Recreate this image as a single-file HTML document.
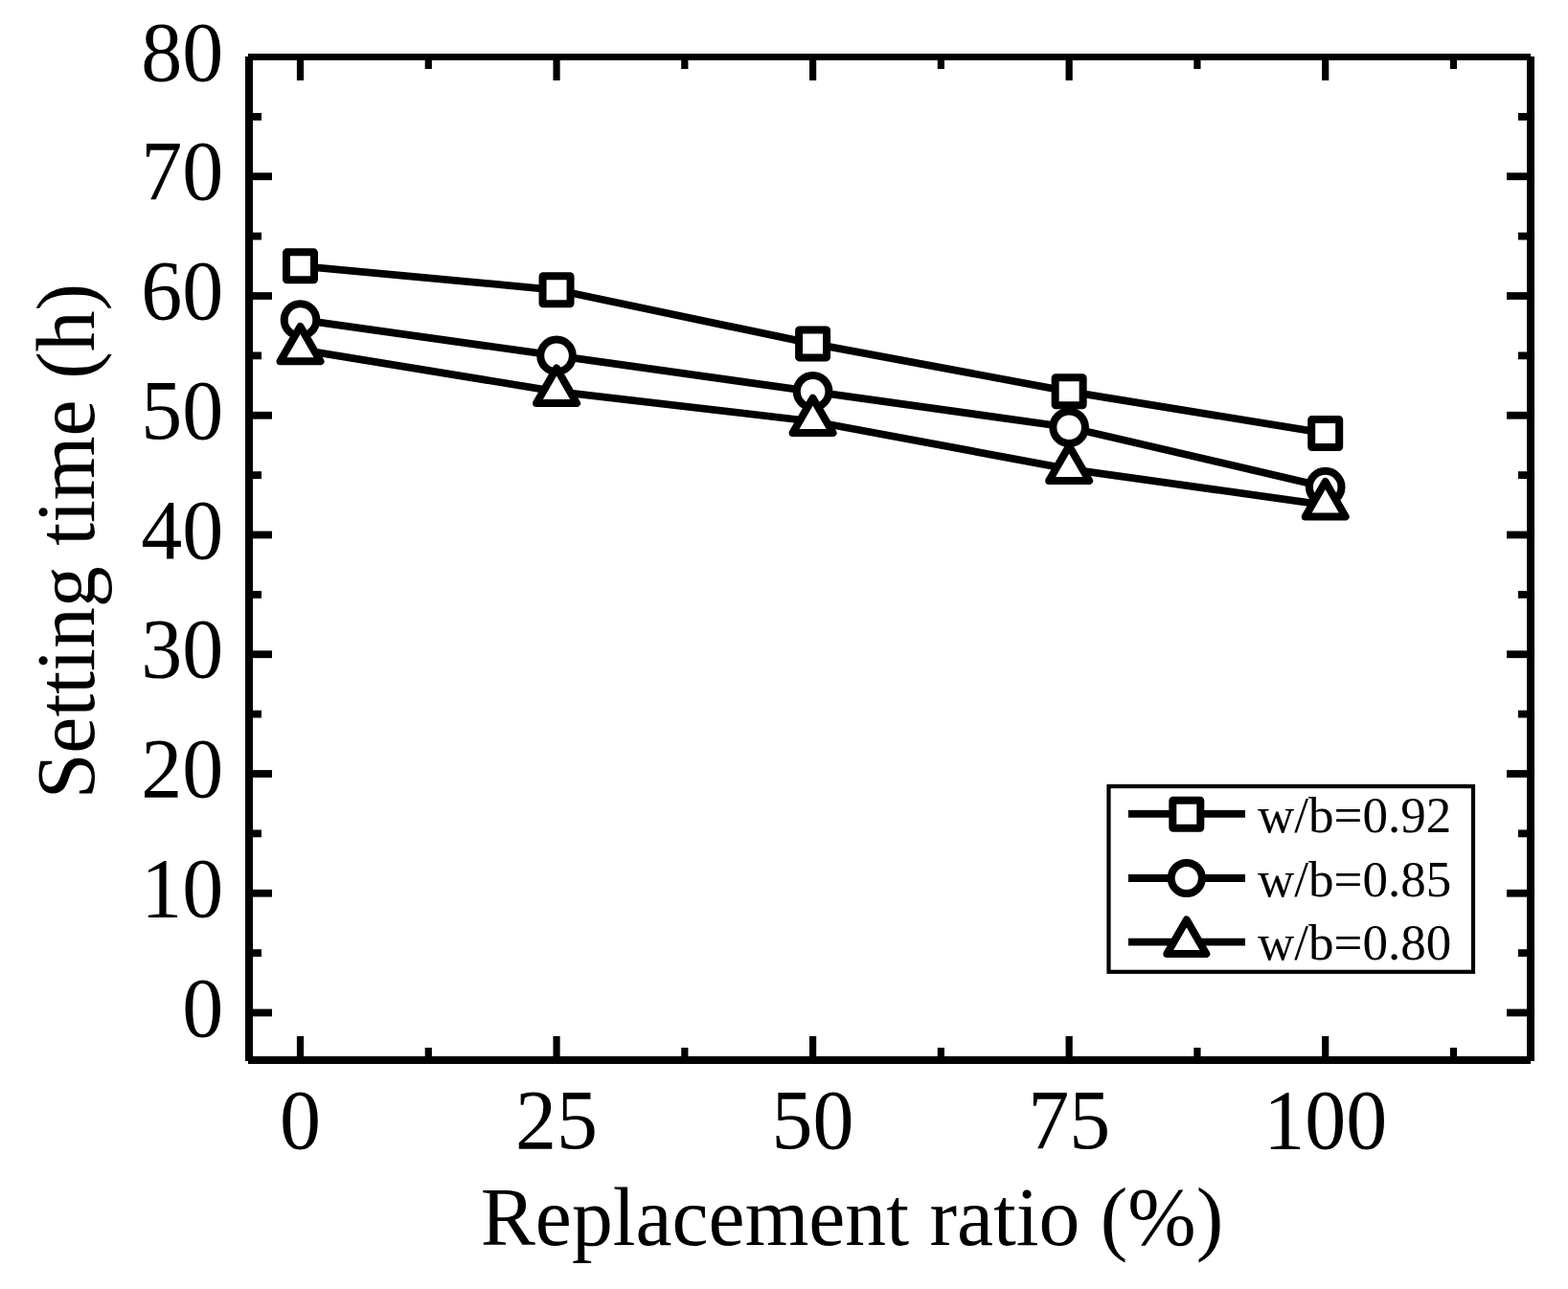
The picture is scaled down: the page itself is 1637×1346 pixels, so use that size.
<!DOCTYPE html>
<html lang="en">
<head>
<meta charset="utf-8">
<title>Setting time vs replacement ratio</title>
<style>
html,body{margin:0;padding:0;background:#fff;}
body{width:1637px;height:1346px;overflow:hidden;}
svg{display:block;}
.t{font-family:"Liberation Serif","Times New Roman",serif;fill:#000;font-kerning:none;font-variant-ligatures:none;}
</style>
</head>
<body>
<svg width="1637" height="1346" viewBox="0 0 1637 1346">
<rect x="0" y="0" width="1637" height="1346" fill="#fff"/>
<g id="frame" fill="#000" shape-rendering="crispEdges">
<rect x="256" y="59" width="8" height="1049"/>
<rect x="1594" y="59" width="8" height="1049"/>
<rect x="259" y="56" width="1339" height="7"/>
<rect x="259" y="1103" width="1339" height="8"/>
</g>
<g id="ticks" fill="#000">
<rect x="309.9" y="63" width="7.2" height="21"/>
<rect x="309.9" y="1082" width="7.2" height="21"/>
<rect x="443.67" y="63" width="7.2" height="9"/>
<rect x="443.67" y="1094" width="7.2" height="9"/>
<rect x="577.45" y="63" width="7.2" height="21"/>
<rect x="577.45" y="1082" width="7.2" height="21"/>
<rect x="711.23" y="63" width="7.2" height="9"/>
<rect x="711.23" y="1094" width="7.2" height="9"/>
<rect x="845" y="63" width="7.2" height="21"/>
<rect x="845" y="1082" width="7.2" height="21"/>
<rect x="978.77" y="63" width="7.2" height="9"/>
<rect x="978.77" y="1094" width="7.2" height="9"/>
<rect x="1112.55" y="63" width="7.2" height="21"/>
<rect x="1112.55" y="1082" width="7.2" height="21"/>
<rect x="1246.33" y="63" width="7.2" height="9"/>
<rect x="1246.33" y="1094" width="7.2" height="9"/>
<rect x="1380.1" y="63" width="7.2" height="21"/>
<rect x="1380.1" y="1082" width="7.2" height="21"/>
<rect x="1513.88" y="63" width="7.2" height="9"/>
<rect x="1513.88" y="1094" width="7.2" height="9"/>
<rect x="264" y="1053.6" width="20" height="7.8"/>
<rect x="1573" y="1053.6" width="21" height="7.8"/>
<rect x="264" y="991.23" width="9" height="7.8"/>
<rect x="1585" y="991.23" width="9" height="7.8"/>
<rect x="264" y="928.85" width="20" height="7.8"/>
<rect x="1573" y="928.85" width="21" height="7.8"/>
<rect x="264" y="866.48" width="9" height="7.8"/>
<rect x="1585" y="866.48" width="9" height="7.8"/>
<rect x="264" y="804.1" width="20" height="7.8"/>
<rect x="1573" y="804.1" width="21" height="7.8"/>
<rect x="264" y="741.73" width="9" height="7.8"/>
<rect x="1585" y="741.73" width="9" height="7.8"/>
<rect x="264" y="679.35" width="20" height="7.8"/>
<rect x="1573" y="679.35" width="21" height="7.8"/>
<rect x="264" y="616.98" width="9" height="7.8"/>
<rect x="1585" y="616.98" width="9" height="7.8"/>
<rect x="264" y="554.6" width="20" height="7.8"/>
<rect x="1573" y="554.6" width="21" height="7.8"/>
<rect x="264" y="492.23" width="9" height="7.8"/>
<rect x="1585" y="492.23" width="9" height="7.8"/>
<rect x="264" y="429.85" width="20" height="7.8"/>
<rect x="1573" y="429.85" width="21" height="7.8"/>
<rect x="264" y="367.48" width="9" height="7.8"/>
<rect x="1585" y="367.48" width="9" height="7.8"/>
<rect x="264" y="305.1" width="20" height="7.8"/>
<rect x="1573" y="305.1" width="21" height="7.8"/>
<rect x="264" y="242.72" width="9" height="7.8"/>
<rect x="1585" y="242.72" width="9" height="7.8"/>
<rect x="264" y="180.35" width="20" height="7.8"/>
<rect x="1573" y="180.35" width="21" height="7.8"/>
<rect x="264" y="117.97" width="9" height="7.8"/>
<rect x="1585" y="117.97" width="9" height="7.8"/>
</g>
<g id="series">
<polyline points="313.5,277.81 581.05,302.76 848.6,358.9 1116.15,408.8 1383.7,452.46" fill="none" stroke="#000" stroke-width="7.8"/>
<rect x="299" y="263.31" width="29" height="29" rx="0.5" fill="#fff" stroke="#000" stroke-width="8" stroke-linejoin="round"/>
<rect x="566.55" y="288.26" width="29" height="29" rx="0.5" fill="#fff" stroke="#000" stroke-width="8" stroke-linejoin="round"/>
<rect x="834.1" y="344.4" width="29" height="29" rx="0.5" fill="#fff" stroke="#000" stroke-width="8" stroke-linejoin="round"/>
<rect x="1101.65" y="394.3" width="29" height="29" rx="0.5" fill="#fff" stroke="#000" stroke-width="8" stroke-linejoin="round"/>
<rect x="1369.2" y="437.96" width="29" height="29" rx="0.5" fill="#fff" stroke="#000" stroke-width="8" stroke-linejoin="round"/>
<polyline points="313.5,333.95 581.05,371.38 848.6,408.8 1116.15,446.23 1383.7,508.6" fill="none" stroke="#000" stroke-width="7.8"/>
<circle cx="313.5" cy="333.95" r="16.8" fill="#fff" stroke="#000" stroke-width="8"/>
<circle cx="581.05" cy="371.38" r="16.8" fill="#fff" stroke="#000" stroke-width="8"/>
<circle cx="848.6" cy="408.8" r="16.8" fill="#fff" stroke="#000" stroke-width="8"/>
<circle cx="1116.15" cy="446.23" r="16.8" fill="#fff" stroke="#000" stroke-width="8"/>
<circle cx="1383.7" cy="508.6" r="16.8" fill="#fff" stroke="#000" stroke-width="8"/>
<polyline points="313.5,365.14 581.05,408.8 848.6,439.99 1116.15,489.89 1383.7,527.31" fill="none" stroke="#000" stroke-width="7.8"/>
<path d="M313.5 340.89L334.5 377.26L292.5 377.26Z" fill="#fff" stroke="#000" stroke-width="8" stroke-linejoin="round"/>
<path d="M581.05 384.55L602.05 420.92L560.05 420.92Z" fill="#fff" stroke="#000" stroke-width="8" stroke-linejoin="round"/>
<path d="M848.6 415.74L869.6 452.11L827.6 452.11Z" fill="#fff" stroke="#000" stroke-width="8" stroke-linejoin="round"/>
<path d="M1116.15 465.64L1137.15 502.01L1095.15 502.01Z" fill="#fff" stroke="#000" stroke-width="8" stroke-linejoin="round"/>
<path d="M1383.7 503.06L1404.7 539.44L1362.7 539.44Z" fill="#fff" stroke="#000" stroke-width="8" stroke-linejoin="round"/>
</g>
<g id="legend">
<rect x="1157.5" y="821.1" width="380.5" height="193.7" fill="#fff" stroke="#000" stroke-width="4.2"/>
<line x1="1178" y1="849.9" x2="1300" y2="849.9" stroke="#000" stroke-width="7.8"/>
<rect x="1224.3" y="835.8" width="29" height="29" rx="0.5" fill="#fff" stroke="#000" stroke-width="8" stroke-linejoin="round"/>
<text x="1313" y="868.8" font-size="53" class="t">w/b=0.92</text>
<line x1="1178" y1="917" x2="1300" y2="917" stroke="#000" stroke-width="7.8"/>
<circle cx="1238.8" cy="917" r="16.1" fill="#fff" stroke="#000" stroke-width="8"/>
<text x="1313" y="935.8" font-size="53" class="t">w/b=0.85</text>
<line x1="1178" y1="983.7" x2="1300" y2="983.7" stroke="#000" stroke-width="7.8"/>
<path d="M1238.8 960.43L1259.3 995.94L1218.3 995.94Z" fill="#fff" stroke="#000" stroke-width="8" stroke-linejoin="round"/>
<text x="1313" y="1001.9" font-size="53" class="t">w/b=0.80</text>
</g>
<g id="labels">
<text transform="translate(233.3,1081.6) scale(1,1.022)" font-size="86" text-anchor="end" class="t">0</text>
<text transform="translate(233.3,956.85) scale(1,1.022)" font-size="86" text-anchor="end" class="t">10</text>
<text transform="translate(233.3,832.1) scale(1,1.022)" font-size="86" text-anchor="end" class="t">20</text>
<text transform="translate(233.3,707.35) scale(1,1.022)" font-size="86" text-anchor="end" class="t">30</text>
<text transform="translate(233.3,582.6) scale(1,1.022)" font-size="86" text-anchor="end" class="t">40</text>
<text transform="translate(233.3,457.85) scale(1,1.022)" font-size="86" text-anchor="end" class="t">50</text>
<text transform="translate(233.3,333.1) scale(1,1.022)" font-size="86" text-anchor="end" class="t">60</text>
<text transform="translate(233.3,208.35) scale(1,1.022)" font-size="86" text-anchor="end" class="t">70</text>
<text transform="translate(233.3,83.6) scale(1,1.022)" font-size="86" text-anchor="end" class="t">80</text>
<text transform="translate(313.5,1198.7) scale(1,1.022)" font-size="86" text-anchor="middle" class="t">0</text>
<text transform="translate(581.05,1198.7) scale(1,1.022)" font-size="86" text-anchor="middle" class="t">25</text>
<text transform="translate(848.6,1198.7) scale(1,1.022)" font-size="86" text-anchor="middle" class="t">50</text>
<text transform="translate(1116.15,1198.7) scale(1,1.022)" font-size="86" text-anchor="middle" class="t">75</text>
<text transform="translate(1383.7,1198.7) scale(1,1.022)" font-size="86" text-anchor="middle" class="t">100</text>
<text x="889.5" y="1300.3" font-size="85.7" text-anchor="middle" class="t">Replacement ratio (%)</text>
<text transform="translate(98.3,565.1) rotate(-90)" font-size="85.8" text-anchor="middle" class="t">Setting time (h)</text>
</g>
</svg>
</body>
</html>
